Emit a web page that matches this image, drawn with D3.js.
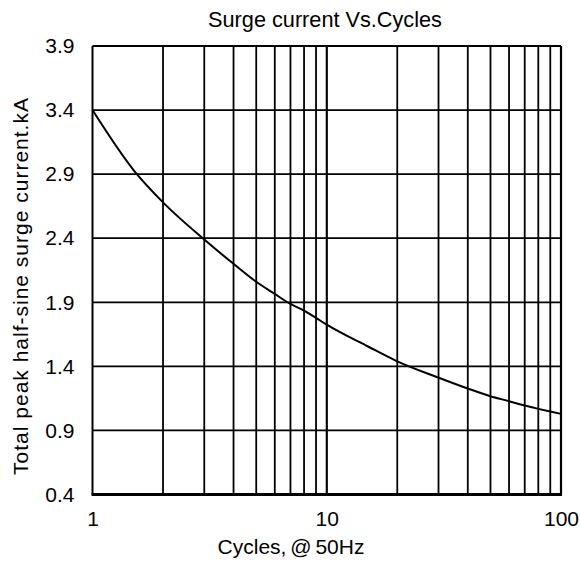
<!DOCTYPE html>
<html>
<head>
<meta charset="utf-8">
<script src="https://cdn.jsdelivr.net/npm/d3@7"></script>
<style>
  html, body { margin: 0; padding: 0; background: #fff; }
  svg text { font-family: "Liberation Sans", Arial, sans-serif; fill: #000; }
</style>
</head>
<body>
<svg id="chart" width="580" height="562"></svg>
<script>
// ---- data ----
const cycles = [1, 1.5, 2, 3, 4, 5, 6, 7, 8, 9, 10, 15, 20, 30, 40, 50, 60, 70, 80, 90, 100];
const surgeKA = [3.4, 2.93, 2.68, 2.39, 2.20, 2.06, 1.965, 1.887, 1.835, 1.778, 1.725, 1.555, 1.439, 1.312, 1.227, 1.167, 1.128, 1.094, 1.068, 1.047, 1.029];
const xTickLabels = [1, 10, 100];
const yTickValues = [0.4, 0.9, 1.4, 1.9, 2.4, 2.9, 3.4, 3.9];
const titleText = "Surge current Vs.Cycles";
const xTitle = "Cycles, @ 50Hz";
const yTitle = "Total peak half-sine surge current.kA";

// ---- layout ----
const svg = d3.select("#chart");
const pLeft = 92.5, pRight = 561, pTop = 46, pBottom = 494.5;

const x = d3.scaleLog().domain([1, 100]).range([pLeft, pRight]);
const y = d3.scaleLinear().domain([0.4, 3.9]).range([pBottom, pTop]);

// vertical grid (log minor lines)
const xGrid = [];
for (let d = 1; d < 100; d *= 10) for (let k = 1; k <= 10; k++) if (d * k > 1 && d * k < 100) xGrid.push(d * k);

const grid = svg.append("g");
grid.selectAll("line.v").data(xGrid).join("line")
  .attr("x1", d => x(d)).attr("x2", d => x(d))
  .attr("y1", pTop).attr("y2", pBottom)
  .attr("stroke", "#000").attr("stroke-width", 1.8);
grid.selectAll("line.h").data(yTickValues.filter(v => v > 0.4 && v < 3.9)).join("line")
  .attr("x1", pLeft).attr("x2", pRight)
  .attr("y1", d => y(d)).attr("y2", d => y(d))
  .attr("stroke", "#000").attr("stroke-width", 1.8);

// frame
svg.append("line").attr("x1", pLeft).attr("x2", pRight).attr("y1", pTop).attr("y2", pTop).attr("stroke", "#000").attr("stroke-width", 2);
svg.append("line").attr("x1", pLeft).attr("x2", pLeft).attr("y1", pTop).attr("y2", pBottom).attr("stroke", "#000").attr("stroke-width", 2);
svg.append("line").attr("x1", pRight).attr("x2", pRight).attr("y1", pTop).attr("y2", pBottom).attr("stroke", "#000").attr("stroke-width", 2.2);
svg.append("line").attr("x1", pLeft - 1).attr("x2", pRight + 1).attr("y1", pBottom).attr("y2", pBottom).attr("stroke", "#000").attr("stroke-width", 3);

// curve
const line = d3.line().x((d, i) => x(cycles[i])).y(d => y(d)).curve(d3.curveMonotoneX);
svg.append("path").datum(surgeKA).attr("d", line)
  .attr("fill", "none").attr("stroke", "#000").attr("stroke-width", 2);

// axes labels
const yAxis = d3.axisLeft(y).tickValues(yTickValues).tickFormat(d3.format(".1f")).tickSize(0).tickPadding(0);
const ya = svg.append("g").attr("transform", `translate(${pLeft - 18},0)`).call(yAxis);
ya.select(".domain").remove();
ya.selectAll("text").attr("font-size", 21).attr("font-family", "Liberation Sans, Arial, sans-serif").attr("fill", "#000");

const xAxis = d3.axisBottom(x).tickValues(xTickLabels).tickFormat(d3.format("d")).tickSize(0).tickPadding(0);
const xa = svg.append("g").attr("transform", `translate(0,${pBottom + 17})`).call(xAxis);
xa.select(".domain").remove();
xa.selectAll("text").attr("font-size", 21).attr("font-family", "Liberation Sans, Arial, sans-serif").attr("fill", "#000");

// titles
svg.append("text").attr("x", 325).attr("y", 27).attr("text-anchor", "middle")
  .attr("font-size", 21.7).text(titleText);
svg.append("text").attr("x", 291).attr("y", 554).attr("text-anchor", "middle")
  .attr("font-size", 21).attr("word-spacing", -2).text(xTitle);
svg.append("text").attr("transform", "translate(28,286) rotate(-90)").attr("text-anchor", "middle")
  .attr("font-size", 21).attr("letter-spacing", 1).text(yTitle);
</script>
</body>
</html>
